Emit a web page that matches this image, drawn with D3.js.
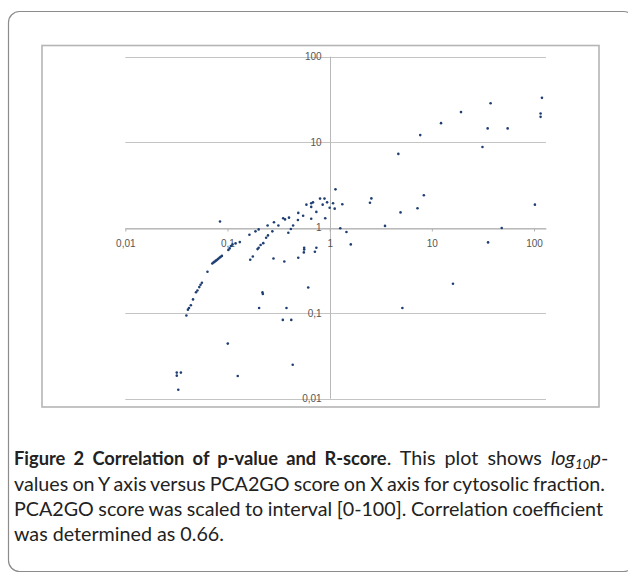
<!DOCTYPE html>
<html>
<head>
<meta charset="utf-8">
<script src="https://cdn.jsdelivr.net/npm/d3@7"></script>
<style>
  body { margin: 0; background: #fff; }
  svg { display: block; }
  .tick text { font-family: "Liberation Sans", Arial, sans-serif; font-size: 10px; fill: #555; }
</style>
</head>
<body>
<svg id="chart" width="628" height="574"></svg>
<script>
// PCA2GO score (x) and p-value (y)
var scoreValues = [
    119.6, 37.6, 19.3, 116, 116, 12.3, 35.2, 55.2, 7.7, 31.3, 4.7,
    1.14, 8.35, 2.56, 2.48, 0.805, 0.89, 0.944, 1.08, 0.687, 0.66, 0.592, 0.854, 1.33,
    0.66, 1.0, 1.12, 7.24, 0.741, 4.94, 0.493, 0.55, 0.351, 0.366, 0.40, 0.489, 0.66,
    0.905, 0.285, 0.0845, 0.247, 0.315, 0.439, 3.48, 0.202, 0.417, 1.27, 48.3, 102,
    0.188, 0.275, 0.164, 0.394, 1.46, 0.249, 0.239, 0.132, 0.12, 0.224, 0.211, 0.202,
    0.197, 0.112, 0.108, 0.105, 0.102, 1.61, 35.5, 0.563, 0.563, 0.741, 0.559, 0.717,
    0.177, 0.167, 0.282, 0.493, 0.36,
    0.071, 0.0728, 0.0744, 0.0765, 0.078, 0.0802, 0.0818, 0.0841, 0.0858, 0.0882,
    0.0637, 0.0562, 0.0545, 0.053, 0.0508, 0.0492, 0.046, 0.0438, 0.042, 0.041, 0.0396,
    0.617, 0.22, 0.222, 0.204, 0.378, 0.348, 0.421, 5.15, 16.1, 0.1007, 0.435, 0.126,
    0.0319, 0.035, 0.0319, 0.033
];
var pValues = [
    33, 28.6, 22.5, 21.7, 19.8, 16.7, 14.5, 14.5, 12.1, 8.8, 7.3,
    2.81, 2.4, 2.2, 1.96, 2.19, 2.19, 1.98, 1.93, 1.98, 1.93, 1.86, 1.86, 1.88,
    1.75, 1.71, 1.67, 1.69, 1.53, 1.51, 1.49, 1.38, 1.29, 1.25, 1.31, 1.23, 1.27,
    1.29, 1.16, 1.18, 1.06, 1.06, 1.06, 1.05, 0.955, 0.965, 0.985, 0.99, 1.86,
    0.906, 0.906, 0.828, 0.874, 0.89, 0.813, 0.764, 0.679, 0.655, 0.66, 0.627, 0.583,
    0.562, 0.638, 0.61, 0.573, 0.548, 0.638, 0.673, 0.583, 0.557, 0.583, 0.514, 0.523,
    0.461, 0.422, 0.437, 0.445, 0.403,
    0.382, 0.391, 0.398, 0.409, 0.416, 0.428, 0.436, 0.448, 0.456, 0.468,
    0.305, 0.227, 0.215, 0.202, 0.184, 0.176, 0.145, 0.124, 0.115, 0.110, 0.094,
    0.2, 0.175, 0.168, 0.115, 0.115, 0.0835, 0.0835, 0.115, 0.221, 0.0441, 0.025, 0.0184,
    0.0202, 0.0202, 0.0186, 0.0127
];
var xTicks = [0.01, 0.1, 1, 10, 100];
var yTicks = [0.01, 0.1, 1, 10, 100];
var xDomain = [0.01, 131];
var yDomain = [0.01, 100];

var captionTitle = "Figure 2 Correlation of p-value and R-score";
var captionRest = [{t: ". This plot shows "}, {t: "log", s: "italic"}, {t: "10", s: "italic", sub: true},
                   {t: "p", s: "italic"}, {t: "-"}];
var captionLines = [
    "values on Y axis versus PCA2GO score on X axis for cytosolic fraction.",
    "PCA2GO score was scaled to interval [0-100]. Correlation coefficient",
    "was determined as 0.66."
];

var svg = d3.select("#chart");

// outer frame (right side runs off the page)
svg.append("rect")
    .attr("x", 8.5).attr("y", 11.5)
    .attr("width", 626).attr("height", 560)
    .attr("rx", 11).attr("ry", 11)
    .attr("fill", "none").attr("stroke", "#8c8c8c").attr("stroke-width", 1.2);

// plot box
svg.append("rect")
    .attr("x", 42).attr("y", 45.5)
    .attr("width", 557).attr("height", 361.5)
    .attr("fill", "#fff").attr("stroke", "#b5b5b5").attr("stroke-width", 1.6);

var x = d3.scaleLog().domain(xDomain).range([125.3, 546]);
var y = d3.scaleLog().domain(yDomain).range([398.7, 56.7]);

var comma = d3.formatLocale({decimal: ",", thousands: ".", grouping: [3], currency: ["", ""]}).format("~g");

// horizontal gridlines
svg.append("g").selectAll("line").data(yTicks).enter().append("line")
    .attr("x1", x(xDomain[0])).attr("x2", x(xDomain[1]))
    .attr("y1", function (d) { return Math.round(y(d)) + 0.5; })
    .attr("y2", function (d) { return Math.round(y(d)) + 0.5; })
    .attr("stroke", "#c4c4c4").attr("stroke-width", 1);

// vertical axis line at x = 1
svg.append("line")
    .attr("x1", Math.round(x(1)) + 0.5).attr("x2", Math.round(x(1)) + 0.5)
    .attr("y1", y(100)).attr("y2", y(0.01))
    .attr("stroke", "#b8b8b8").attr("stroke-width", 1);

// x axis crossing at y = 1
var xAxis = svg.append("g")
    .attr("transform", "translate(0," + (Math.round(y(1)) + 0.5) + ")")
    .call(d3.axisBottom(x).tickValues(xTicks).tickFormat(comma)
        .tickSize(3).tickSizeOuter(0).tickPadding(8));
xAxis.select(".domain").attr("stroke", "#b0b0b0");
xAxis.selectAll(".tick line").attr("stroke", "#b0b0b0");

// y labels next to the x = 1 line
var yAxis = svg.append("g")
    .attr("transform", "translate(" + x(1) + ",0)")
    .call(d3.axisLeft(y).tickValues(yTicks).tickFormat(comma)
        .tickSize(0).tickPadding(8));
yAxis.select(".domain").remove();

// points
svg.append("g").selectAll("circle").data(scoreValues).enter().append("circle")
    .attr("cx", function (d) { return x(d); })
    .attr("cy", function (d, i) { return y(pValues[i]); })
    .attr("r", 1.3)
    .attr("fill", "#1f3f73");

// caption (justified like the journal layout)
var caption = svg.append("g")
    .attr("font-family", "Lato, 'Open Sans', sans-serif")
    .attr("fill", "#222");

var baselines = [465, 491, 516, 541];
var lineEnds = [612, 605, 603, null];

var body = caption.selectAll("text.body").data(captionLines).enter().append("text")
    .attr("class", "body")
    .attr("x", 14)
    .attr("y", function (d, i) { return baselines[i + 1]; })
    .attr("font-size", 17.5)
    .text(function (d) { return d; });

// size from the last (unjustified) line, ~210px wide in the figure
var fs = 17.5 * 210 / body.nodes()[2].getComputedTextLength();
body.attr("font-size", fs);
body.each(function (d, i) {
    var end = lineEnds[i + 1];
    if (!end) return;
    var gap = (end - 14 - this.getComputedTextLength()) / (d.split(" ").length - 1);
    d3.select(this).attr("word-spacing", gap);
});

// first line: bold title set a little narrower, spaces stretched evenly
var squeeze = 0.93;
var title = caption.append("text")
    .attr("font-size", fs).attr("font-weight", "bold")
    .text(captionTitle);
var rest = caption.append("text")
    .attr("y", baselines[0])
    .attr("font-size", fs);
captionRest.forEach(function (p) {
    var ts = rest.append("tspan").text(p.t);
    if (p.s) ts.attr("font-style", p.s);
    if (p.sub) ts.attr("font-size", fs * 0.68).attr("dy", 4);
    else if (p.t === "p") ts.attr("dy", -4);
});
var tw = title.node().getComputedTextLength(),
    rw = rest.node().getComputedTextLength();
var e = (lineEnds[0] - 14 - squeeze * tw - rw) / (7 * squeeze + 4);
title.attr("word-spacing", e)
    .attr("transform", "translate(14," + baselines[0] + ") scale(" + squeeze + ",1)");
// start the rest right where the bold glyphs end
var tb = title.node().getBBox();
rest.attr("word-spacing", e)
    .attr("x", 14 + squeeze * (tb.x + tb.width));
</script>
</body>
</html>
